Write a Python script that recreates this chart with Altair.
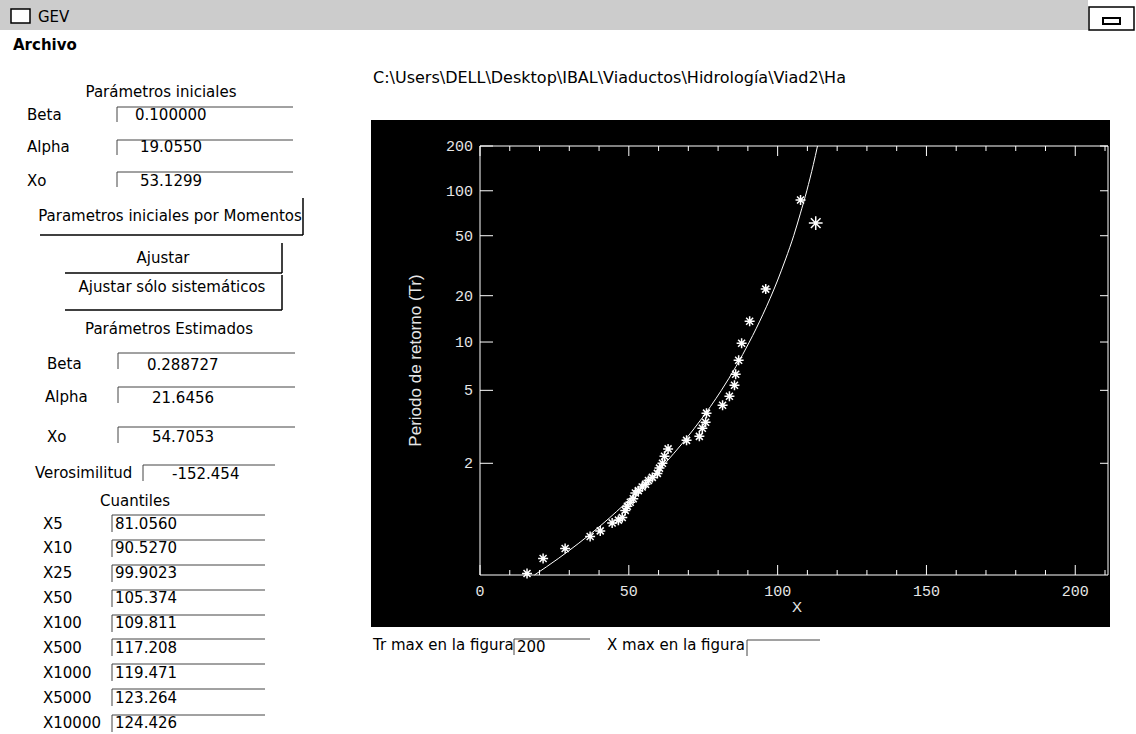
import math
import altair as alt
import pandas as pd

# ---------------- values ----------------
# fitted GEV curve: return period Tr and X
curve_T = [1.02, 1.05, 1.1, 1.2, 1.3, 1.5, 1.7, 2, 2.5, 3, 4, 5, 7, 10, 15, 25, 35, 50, 70, 100, 150, 200]
curve_X = [18.3, 26.3, 33.2, 41.0, 45.9, 52.6, 57.3, 62.2, 67.9, 71.9, 77.4, 81.1, 86.0, 90.5, 95.0,
           99.9, 102.7, 105.4, 107.6, 109.8, 112.0, 113.4]

# observed (systematic) data, asterisks
obs_T = [86.6, 22.1, 13.6, 9.83, 7.67, 6.27, 5.37, 4.61, 4.08, 3.67,
         3.26, 3.02, 2.73, 2.60, 2.35, 2.16, 2.00, 1.90, 1.80, 1.73,
         1.68, 1.62, 1.58, 1.53, 1.50, 1.43, 1.39, 1.35, 1.31, 1.25,
         1.23, 1.21, 1.16, 1.13, 1.08, 1.05, 1.022]
obs_X = [107.7, 96.0, 90.6, 87.9, 86.9, 85.9, 85.5, 83.8, 81.5, 76.1,
         75.8, 74.7, 73.7, 69.4, 63.2, 62.0, 61.3, 60.3, 59.6, 57.9,
         56.6, 55.6, 54.5, 53.2, 52.2, 51.5, 50.5, 49.5, 48.8, 47.8,
         46.5, 44.4, 40.4, 37.0, 28.6, 21.2, 15.8]

# the single larger asterisk
big_T = [60.7]
big_X = [112.8]

x_major = [0, 50, 100, 150, 200]
x_minor = [10, 20, 30, 40, 60, 70, 80, 90, 110, 120, 130, 140, 160, 170, 180, 190, 210]
y_major_T = [2, 5, 10, 20, 50, 100, 200]
T_min, T_max = 1.02, 200
X_min, X_max = 0, 211
x_title = "X"
y_title = "Periodo de retorno (Tr)"

# ---------------- GUI texts ----------------
init_labels = ["Beta", "Alpha", "Xo"]
init_values = ["0.100000", "19.0550", "53.1299"]
est_labels = ["Beta", "Alpha", "Xo"]
est_values = ["0.288727", "21.6456", "54.7053"]
loglik_label = "Verosimilitud"
loglik_value = "-152.454"
quant_labels = ["X5", "X10", "X25", "X50", "X100", "X500", "X1000", "X5000", "X10000"]
quant_values = ["81.0560", "90.5270", "99.9023", "105.374", "109.811", "117.208", "119.471", "123.264", "124.426"]
headings = ["Parámetros iniciales", "Parametros iniciales por Momentos", "Ajustar",
            "Ajustar sólo sistemáticos", "Parámetros Estimados", "Cuantiles"]
path_text = "C:\\Users\\DELL\\Desktop\\IBAL\\Viaductos\\Hidrología\\Viad2\\Ha"
bottom_texts = ["Tr max en la figura", "200", "X max en la figura"]

# ---------------- layout (page pixels) ----------------
W, H = 628, 429
OX, OY = 480, 146

init_label_pos = [(27, 115), (27, 147), (27, 181)]
init_value_pos = [(135, 115), (140, 147), (140, 181)]
est_label_pos = [(47, 364), (45, 397), (47, 437)]
est_value_pos = [(147, 365), (152, 398), (152, 437)]
quant_rows = [524, 548, 573, 598, 623, 648, 673, 698, 723]
heading_pos = [(161, 92), (170, 216), (163, 258), (172, 287), (169, 329), (135, 501)]
bottom_pos = [(373, 645), (517, 647), (607, 645)]

left_rows = []
for t, (x, y) in zip(init_labels, init_label_pos):
    left_rows.append((t, x, y))
for t, (x, y) in zip(init_values, init_value_pos):
    left_rows.append((t, x, y))
for t, (x, y) in zip(est_labels, est_label_pos):
    left_rows.append((t, x, y))
for t, (x, y) in zip(est_values, est_value_pos):
    left_rows.append((t, x, y))
left_rows.append((loglik_label, 35, 473))
left_rows.append((loglik_value, 172, 474))
for t, y in zip(quant_labels, quant_rows):
    left_rows.append((t, 43, y))
for t, y in zip(quant_values, quant_rows):
    left_rows.append((t, 115, y))
for t, (x, y) in zip(bottom_texts, bottom_pos):
    left_rows.append((t, x, y))
left_rows.append(("GEV", 38, 17))

left_df = pd.DataFrame([{"t": t, "px": x - OX, "py": y - OY} for t, x, y in left_rows])
center_df = pd.DataFrame([{"t": t, "px": x - OX, "py": y - OY} for t, (x, y) in zip(headings, heading_pos)])
bold_df = pd.DataFrame([{"t": "Archivo", "px": 13 - OX, "py": 45 - OY}])
path_df = pd.DataFrame([{"t": path_text, "px": 373 - OX, "py": 78 - OY}])

boxes = [(117, 107, 293, 122), (117, 140, 293, 155), (117, 172, 293, 187),
         (118, 353, 295, 369), (118, 387, 295, 403), (118, 427, 295, 443),
         (143, 465, 275, 481), (514, 639, 590, 655), (747, 640, 820, 656)]
for top in [515, 540, 565, 590, 615, 639, 664, 689, 715]:
    boxes.append((112, top, 265, top + 17))
buttons = [(40, 198, 303, 235), (65, 243, 282, 273), (65, 275, 282, 310)]

box_segs = []
for x0, y0, x1, y1 in boxes:
    box_segs.append({"a": x0 - OX, "b": x1 - OX, "c": y0 - OY, "d": y0 - OY})
    box_segs.append({"a": x0 - OX, "b": x0 - OX, "c": y0 - OY, "d": y1 - OY})
btn_segs = []
for x0, y0, x1, y1 in buttons:
    btn_segs.append({"a": x1 - OX, "b": x1 - OX, "c": y0 - OY, "d": y1 - OY})
    btn_segs.append({"a": x0 - OX, "b": x1 - OX, "c": y1 - OY, "d": y1 - OY})
frame_segs = [{"a": 0, "b": W, "c": 0, "d": 0}, {"a": 0, "b": W, "c": H, "d": H},
              {"a": 0, "b": 0, "c": 0, "d": H}, {"a": W, "b": W, "c": 0, "d": H}]
box_df = pd.DataFrame(box_segs)
btn_df = pd.DataFrame(btn_segs)
frame_df = pd.DataFrame(frame_segs)

# ---------------- chart ----------------
def gumbel(T):
    return -math.log(-math.log(1 - 1 / T))

GUM = "-log(-log(1 - 1/datum.T))"
xs = alt.Scale(domain=[X_min, X_max], nice=False, zero=False)
ys = alt.Scale(domain=[gumbel(T_min), gumbel(T_max)], nice=False, zero=False)
AX_FONT = "Liberation Mono"
AX_COL = "#e6e6e6"

one = pd.DataFrame({"k": [0]})
panel = alt.Chart(one).mark_rect(color="black").encode(
    x=alt.value(371 - OX), x2=alt.value(1110 - OX), y=alt.value(120 - OY), y2=alt.value(627 - OY))
titlebar = alt.Chart(one).mark_rect(color="#cccccc").encode(
    x=alt.value(0 - OX), x2=alt.value(1088 - OX), y=alt.value(0 - OY), y2=alt.value(30 - OY))
closebtn = alt.Chart(one).mark_rect(fill="white", stroke="black", strokeWidth=1.5).encode(
    x=alt.value(1089 - OX), x2=alt.value(1134 - OX), y=alt.value(7 - OY), y2=alt.value(30 - OY))
closein = alt.Chart(one).mark_rect(fill="white", stroke="black", strokeWidth=2).encode(
    x=alt.value(1103 - OX), x2=alt.value(1120 - OX), y=alt.value(18 - OY), y2=alt.value(24 - OY))
icon = alt.Chart(one).mark_rect(fill="white", stroke="black", strokeWidth=1.5).encode(
    x=alt.value(11 - OX), x2=alt.value(30 - OX), y=alt.value(9 - OY), y2=alt.value(23 - OY))

curve_df = pd.DataFrame({"T": curve_T, "X": curve_X})
obs_df = pd.DataFrame({"T": obs_T, "X": obs_X})
big_df = pd.DataFrame({"T": big_T, "X": big_X})

curve = alt.Chart(curve_df).transform_calculate(gy=GUM).mark_line(
    color="white", strokeWidth=1, interpolate="monotone").encode(
    x=alt.X("X:Q", scale=xs, axis=None), y=alt.Y("gy:Q", scale=ys, axis=None))

STAR = "M-1,0L1,0M0,-1L0,1M-0.7,-0.7L0.7,0.7M-0.7,0.7L0.7,-0.7"
pts = alt.Chart(obs_df).transform_calculate(gy=GUM).mark_point(
    shape=STAR, filled=False, color="white", size=100, strokeWidth=1.5, opacity=1).encode(
    x=alt.X("X:Q", scale=xs, axis=None), y=alt.Y("gy:Q", scale=ys, axis=None))
bigpt = alt.Chart(big_df).transform_calculate(gy=GUM).mark_point(
    shape=STAR, filled=False, color="white", size=190, strokeWidth=1.5, opacity=1).encode(
    x=alt.X("X:Q", scale=xs, axis=None), y=alt.Y("gy:Q", scale=ys, axis=None))

xmaj_df = pd.DataFrame({"v": x_major})
xmin_df = pd.DataFrame({"v": x_minor})
ymaj_df = pd.DataFrame({"T": y_major_T})

def xticks(df, y0, y1):
    return alt.Chart(df).mark_rule(color="white", strokeWidth=1).encode(
        x=alt.X("v:Q", scale=xs, axis=None), y=alt.value(y0), y2=alt.value(y1))

def yticks(x0, x1):
    return alt.Chart(ymaj_df).transform_calculate(gy=GUM).mark_rule(color="white", strokeWidth=1).encode(
        y=alt.Y("gy:Q", scale=ys, axis=None), x=alt.value(x0), x2=alt.value(x1))

ticks = [xticks(xmaj_df, H, H - 10), xticks(xmin_df, H, H - 5),
         xticks(xmaj_df, 0, 10), xticks(xmin_df, 0, 5),
         yticks(0, 13), yticks(W - 8, W)]

# axis labels and titles (positions come from the scales)
xlabels = alt.Chart(xmaj_df).mark_text(align="center", baseline="top", font=AX_FONT, fontSize=15,
                                       color=AX_COL).encode(
    x=alt.X("v:Q", scale=xs, axis=None), y=alt.value(H + 9), text="v:Q")
ylabels = alt.Chart(ymaj_df).transform_calculate(gy=GUM).mark_text(
    align="right", baseline="middle", font=AX_FONT, fontSize=15, color=AX_COL).encode(
    y=alt.Y("gy:Q", scale=ys, axis=None), x=alt.value(-7), text="T:Q")
xtitle = alt.Chart(one).mark_text(align="center", baseline="middle", font="Liberation Sans",
                                  fontSize=15, color=AX_COL).encode(
    x=alt.value(317), y=alt.value(H + 32), text=alt.value(x_title))
ytitle = alt.Chart(one).mark_text(align="center", baseline="middle", font="Liberation Sans",
                                  fontSize=17, color=AX_COL, angle=270).encode(
    x=alt.value(-64), y=alt.value(H / 2), text=alt.value(y_title))

frame = alt.Chart(frame_df).mark_rule(color="white", strokeWidth=1).encode(
    x=alt.X("a:Q", scale=None), x2="b:Q", y=alt.Y("c:Q", scale=None), y2="d:Q")

def texts(df, align, size, weight="normal", font="DejaVu Sans"):
    return alt.Chart(df).mark_text(align=align, baseline="middle", font=font, fontSize=size,
                                   fontWeight=weight, color="black").encode(
        x=alt.X("px:Q", scale=None), y=alt.Y("py:Q", scale=None), text="t:N")

gui_lines = alt.Chart(box_df).mark_rule(color="#444444", strokeWidth=1).encode(
    x=alt.X("a:Q", scale=None), x2="b:Q", y=alt.Y("c:Q", scale=None), y2="d:Q")
btn_lines = alt.Chart(btn_df).mark_rule(color="black", strokeWidth=1.5).encode(
    x=alt.X("a:Q", scale=None), x2="b:Q", y=alt.Y("c:Q", scale=None), y2="d:Q")

chart = alt.layer(
    panel, titlebar, closebtn, closein, icon,
    frame, curve, pts, bigpt, *ticks, xlabels, ylabels, xtitle, ytitle,
    gui_lines, btn_lines,
    texts(left_df, "left", 15), texts(center_df, "center", 15),
    texts(bold_df, "left", 15, "bold"), texts(path_df, "left", 16),
).properties(
    width=W, height=H,
    padding={"left": OX, "top": OY, "right": 1136 - OX - W, "bottom": 734 - OY - H},
    autosize=alt.AutoSizeParams(type="none"),
    background="white",
).configure_view(stroke=None)

chart.save("out.html", embed_options={"renderer": "svg", "actions": False})
